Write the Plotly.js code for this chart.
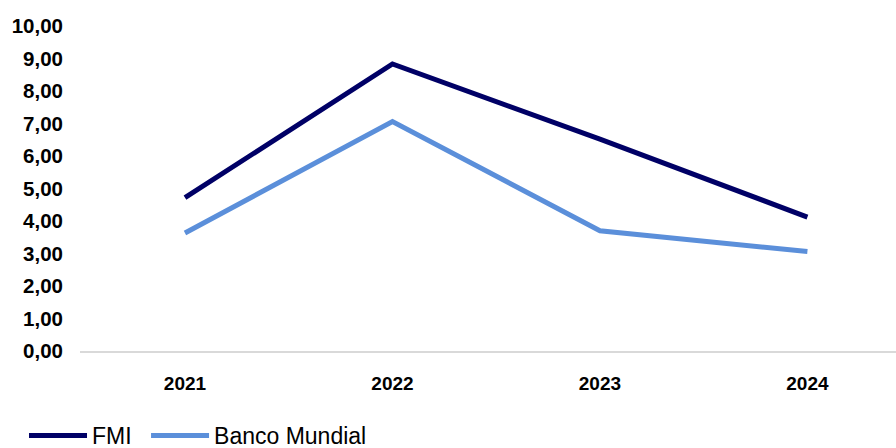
<!DOCTYPE html>
<html>
<head>
<meta charset="utf-8">
<script src="https://cdn.plot.ly/plotly-3.0.1.min.js"></script>
<style>html,body{margin:0;padding:0;background:#fff}#chart{width:896px;height:448px}</style>
</head>
<body>
<div id="chart"></div>
<script>
const years = ["2021", "2022", "2023", "2024"];
const fmi = [4.72, 8.83, 6.52, 4.12];
const bancoMundial = [3.63, 7.06, 3.70, 3.06];
const yTickVals = [0, 1, 2, 3, 4, 5, 6, 7, 8, 9, 10];
const yTickText = ["0,00", "1,00", "2,00", "3,00", "4,00", "5,00", "6,00", "7,00", "8,00", "9,00", "10,00"];

const font = "Arial, 'Liberation Sans', sans-serif";
const traces = [
  {x: years, y: fmi, name: "FMI", type: "scatter", mode: "lines", legend: "legend",
   line: {color: "#000066", width: 5}},
  {x: years, y: bancoMundial, name: "Banco Mundial", type: "scatter", mode: "lines", legend: "legend2",
   line: {color: "#5B8FDA", width: 5}}
];
const legendBase = {
  orientation: "h", xref: "container", yref: "container",
  y: 0.028, xanchor: "left", yanchor: "middle",
  font: {family: font, size: 23, color: "#000000"},
  itemwidth: 58, bgcolor: "rgba(0,0,0,0)"
};
const layout = {
  width: 896, height: 448,
  margin: {l: 80, r: 0, t: 26, b: 97},
  paper_bgcolor: "#ffffff", plot_bgcolor: "#ffffff",
  font: {family: font, color: "#000000"},
  xaxis: {
    type: "category", range: [-0.506, 3.427],
    showgrid: false, zeroline: false,
    showline: true, linecolor: "#D9D9D9", linewidth: 2,
    ticks: "", ticklabelstandoff: 14,
    tickfont: {family: font, size: 19, color: "#000000", weight: "bold"}
  },
  yaxis: {
    range: [0, 10], tickvals: yTickVals, ticktext: yTickText,
    showgrid: false, zeroline: false, showline: false,
    ticks: "", ticklabelstandoff: 16,
    tickfont: {family: font, size: 20.5, color: "#000000", weight: "bold"}
  },
  showlegend: true,
  legend: Object.assign({}, legendBase, {x: 0.0268}),
  legend2: Object.assign({}, legendBase, {x: 0.163})
};
Plotly.newPlot("chart", traces, layout, {displayModeBar: false, staticPlot: true});
</script>
</body>
</html>
